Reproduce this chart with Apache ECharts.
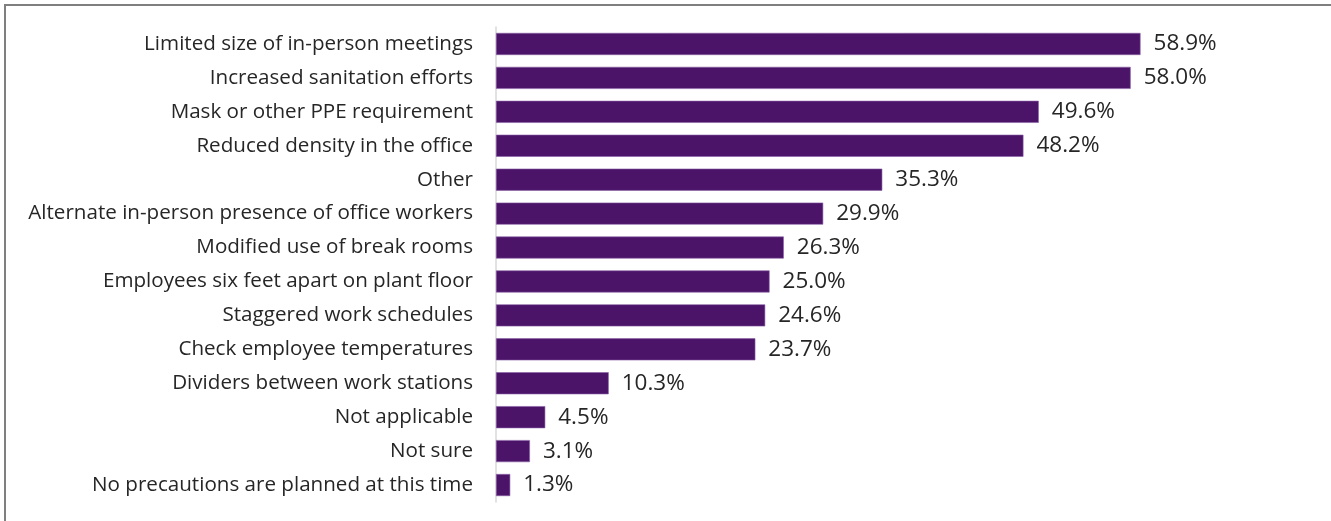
<!DOCTYPE html>
<html>
<head>
<meta charset="utf-8">
<script src="https://cdn.jsdelivr.net/npm/echarts@6/dist/echarts.min.js"></script>
<style>
  html, body { margin: 0; padding: 0; background: #fff; }
  #frame { position: absolute; left: 4px; top: 4px; width: 1340px; height: 530px; border: 2px solid #7f7f7f; box-sizing: border-box; }
  #chart { position: absolute; left: 0; top: 0; width: 1331px; height: 521px; }
</style>
</head>
<body>
<div id="frame"></div>
<div id="chart"></div>
<script>
// Workplace precautions, share of respondents (%)
const categories = [
  'Limited size of in-person meetings',
  'Increased sanitation efforts',
  'Mask or other PPE requirement',
  'Reduced density in the office',
  'Other',
  'Alternate in-person presence of office workers',
  'Modified use of break rooms',
  'Employees six feet apart on plant floor',
  'Staggered work schedules',
  'Check employee temperatures',
  'Dividers between work stations',
  'Not applicable',
  'Not sure',
  'No precautions are planned at this time'
];
const values = [58.9, 58.0, 49.6, 48.2, 35.3, 29.9, 26.3, 25.0, 24.6, 23.7, 10.3, 4.5, 3.1, 1.3];

const FONT = '"Open Sans"';
const chart = echarts.init(document.getElementById('chart'), null, { renderer: 'canvas' });
chart.setOption({
  animation: false,
  grid: { left: 496, top: 27, width: 766, height: 475, containLabel: false },
  xAxis: {
    type: 'value', min: 0, max: 70,
    show: false
  },
  yAxis: {
    type: 'category',
    inverse: true,
    data: categories,
    axisLine: { show: true, lineStyle: { color: '#d9d9d9', width: 1.5 } },
    axisTick: { show: false },
    axisLabel: { color: '#262626', fontFamily: FONT, fontSize: 20.6, margin: 23 }
  },
  series: [{
    type: 'bar',
    data: values,
    barWidth: '65%',
    itemStyle: { color: '#4b1469', borderColor: '#8a5fa6', borderWidth: 0.6 },
    label: {
      show: true, position: 'right', distance: 13,
      color: '#262626', fontFamily: FONT, fontSize: 22.5,
      formatter: p => p.value.toFixed(1) + '%'
    }
  }]
});
</script>
</body>
</html>
